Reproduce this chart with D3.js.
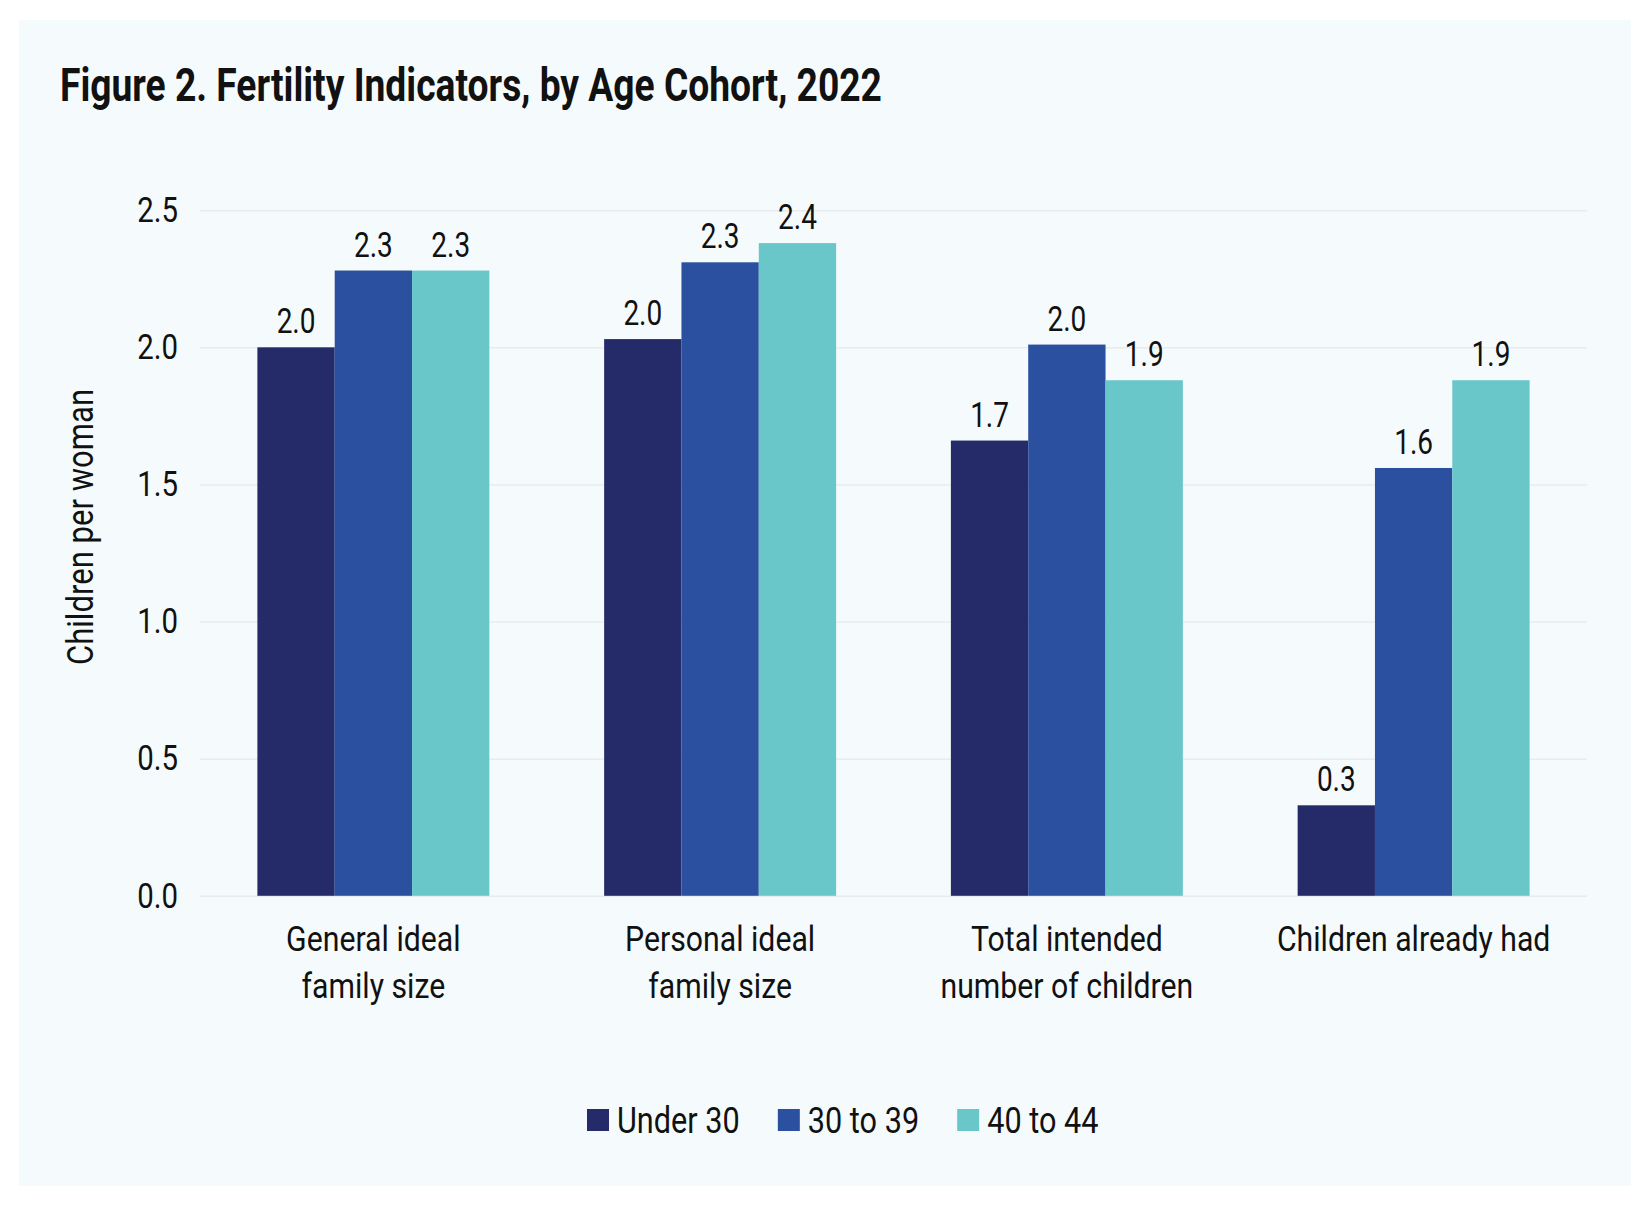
<!DOCTYPE html>
<html>
<head>
<meta charset="utf-8">
<script src="https://cdn.jsdelivr.net/npm/d3@7"></script>
<style>
  body { margin: 0; background: #ffffff; }
  svg { display: block; }
  text { font-family: Roboto, "Noto Sans", "Liberation Sans", sans-serif; fill: #111111; }
</style>
</head>
<body>
<svg id="chart" width="1651" height="1212"></svg>
<script>
// ---------------- data ----------------
const titleText = "Figure 2. Fertility Indicators, by Age Cohort, 2022";
const yAxisTitle = "Children per woman";
const categories = ["General ideal\nfamily size", "Personal ideal\nfamily size", "Total intended\nnumber of children", "Children already had"];
const seriesNames = ["Under 30", "30 to 39", "40 to 44"];
const under30   = [2.00, 2.03, 1.66, 0.33];
const age30to39 = [2.28, 2.31, 2.01, 1.56];
const age40to44 = [2.28, 2.38, 1.88, 1.88];
const yTicks = [0, 0.5, 1.0, 1.5, 2.0, 2.5];
const seriesColors = ["#252a68", "#2b50a0", "#69c7c9"];

const seriesValues = [under30, age30to39, age40to44];
const rows = categories.map((c, i) => ({
  category: c,
  values: seriesNames.map((s, j) => ({ series: s, value: seriesValues[j][i] }))
}));

// ---------------- layout ----------------
const W = 1651, H = 1212;
const plot = { left: 200, right: 1587, top: 210.2, bottom: 895.8 };
const SX = 0.84; // horizontal condensing of the text face

const svg = d3.select("#chart");

// helper: move x/y into a transform and condense horizontally
function squeeze(sel, sx, extra) {
  sel.each(function () {
    const t = d3.select(this);
    const x = +t.attr("x") || 0, y = +t.attr("y") || 0;
    t.attr("x", 0).attr("y", 0)
     .attr("transform", `translate(${x},${y})${extra || ""} scale(${sx},1)`);
  });
}

// panel background
svg.append("rect").attr("x", 0).attr("y", 0).attr("width", W).attr("height", H).attr("fill", "#ffffff");
svg.append("rect").attr("x", 19).attr("y", 20).attr("width", 1612).attr("height", 1166).attr("fill", "#f5fbfc");

// title
const title = svg.append("text")
  .attr("x", 60).attr("y", 101)
  .attr("font-size", 46).attr("font-weight", 700)
  .text(titleText);
const tLen = title.node().getComputedTextLength();
squeeze(title, 822 / tLen);

// scales
const x0 = d3.scaleBand().domain(categories).range([plot.left, plot.right]).paddingInner(0.331).paddingOuter(0.1655);
const x1 = d3.scaleBand().domain(seriesNames).range([0, x0.bandwidth()]);
const y = d3.scaleLinear().domain([0, 2.5]).range([plot.bottom, plot.top]);
const color = d3.scaleOrdinal().domain(seriesNames).range(seriesColors);

// y axis with gridlines
const yAxis = svg.append("g")
  .attr("transform", `translate(${plot.left},0)`)
  .call(d3.axisLeft(y).tickValues(yTicks).tickFormat(d3.format(".1f"))
        .tickSizeInner(-(plot.right - plot.left)).tickSizeOuter(0).tickPadding(22));
yAxis.select(".domain").remove();
yAxis.selectAll(".tick line").attr("stroke", "#e9ecee").attr("stroke-width", 1.6);
yAxis.selectAll(".tick text")
  .attr("font-size", 35).attr("font-family", "Roboto, sans-serif").attr("fill", "#111111")
  .attr("dy", "0.32em");
squeeze(yAxis.selectAll(".tick text"), SX);

// y axis title
const yt = svg.append("text")
  .attr("x", 93).attr("y", 527)
  .attr("text-anchor", "middle")
  .attr("font-size", 37)
  .text(yAxisTitle);
squeeze(yt, SX, " rotate(-90)");

// bars
const groups = svg.append("g").selectAll("g.cat")
  .data(rows).join("g")
  .attr("class", "cat")
  .attr("transform", d => `translate(${x0(d.category)},0)`);

groups.selectAll("rect")
  .data(d => d.values).join("rect")
  .attr("x", d => x1(d.series))
  .attr("y", d => y(d.value))
  .attr("width", x1.bandwidth())
  .attr("height", d => y(0) - y(d.value))
  .attr("fill", d => color(d.series));

// value labels
const vLabels = groups.selectAll("text.val")
  .data(d => d.values).join("text")
  .attr("class", "val")
  .attr("x", d => x1(d.series) + x1.bandwidth() / 2)
  .attr("y", d => y(d.value) - 14)
  .attr("text-anchor", "middle")
  .attr("font-size", 35)
  .text(d => d3.format(".1f")(d.value));
squeeze(vLabels, 0.8);

// category labels
const cLabels = svg.append("g").selectAll("text.cat")
  .data(categories).join("text")
  .attr("class", "cat")
  .attr("x", d => x0(d) + x0.bandwidth() / 2)
  .attr("y", 951)
  .attr("text-anchor", "middle")
  .attr("font-size", 36);
cLabels.selectAll("tspan")
  .data(d => d.split("\n")).join("tspan")
  .attr("x", 0)
  .attr("dy", (d, i) => i === 0 ? 0 : 47)
  .text(d => d);
squeeze(cLabels, SX);

// legend
const legend = svg.append("g").attr("transform", "translate(587,1109)");
let lx = 0;
seriesNames.forEach((s, i) => {
  legend.append("rect")
    .attr("x", lx).attr("y", 0).attr("width", 22).attr("height", 22)
    .attr("fill", color(s));
  const t = legend.append("text")
    .attr("x", lx + 30).attr("y", 23.7)
    .attr("font-size", 36.5)
    .text(s);
  const w = t.node().getComputedTextLength() * SX;
  squeeze(t, SX);
  lx = lx + 30 + w + 38;
});
</script>
</body>
</html>
